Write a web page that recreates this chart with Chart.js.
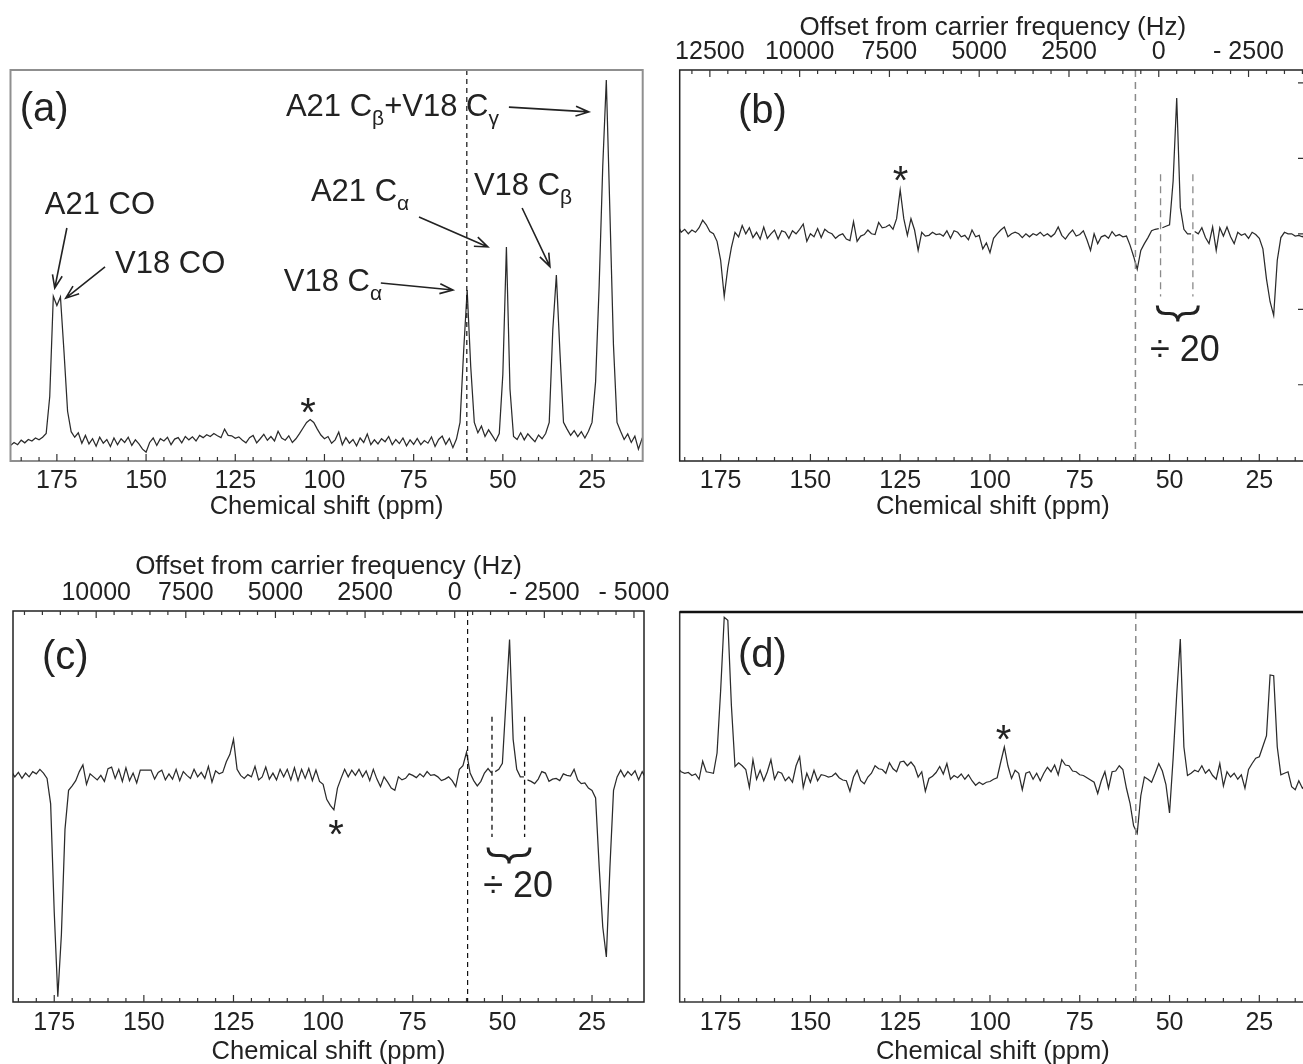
<!DOCTYPE html>
<html>
<head>
<meta charset="utf-8">
<script src="https://cdn.jsdelivr.net/npm/chart.js@4.4.1/dist/chart.umd.min.js"></script>
<style>
  html, body { margin: 0; padding: 0; background: #fff; }
  body { width: 1303px; height: 1064px; overflow: hidden; position: relative; }
  canvas { position: absolute; }
</style>
</head>
<body>
<canvas id="panelA" width="660" height="540" style="left:0;top:0"></canvas>
<canvas id="panelB" width="660" height="540" style="left:660px;top:0"></canvas>
<canvas id="panelC" width="700" height="540" style="left:0;top:540px"></canvas>
<canvas id="panelD" width="660" height="540" style="left:660px;top:540px"></canvas>
<script>
const FONT = '"Liberation Sans", Arial, Helvetica, sans-serif';
const INK = '#222';

// 1 ppm sampling grid, 189 -> 10 ppm
const PPM_GRID = Array.from({ length: 180 }, (_, i) => 189 - i);

const PPM_TICKS = [175, 150, 125, 100, 75, 50, 25];
const HZ_TICKS_B = [12500, 10000, 7500, 5000, 2500, 0, -2500];
const HZ_TICKS_C = [10000, 7500, 5000, 2500, 0, -2500, -5000];

// (a) CP spectrum, arbitrary units
const SPEC_A = [
  -1.8, -1.2, -0.4, -1.0, 0.2, -0.5, 0.4, 0.0, 0.8, 0.3,
  1.0, 2.0, 12, 39, 36.5, 38.8, 24, 8, 2.5, 1.0,
  2.2, -0.6, 1.5, -0.8, 0.6, -1.4, 1.0, -0.6, 0.4, -1.5,
  0.8, -1.0, 0.6, -0.4, 1.0, -1.2, 0.3, -0.8, -2.2, -3.0,
  -0.4, 0.8, -1.2, 0.6, 0.0, 1.0, -1.0, 0.5, 0.9, -0.5,
  1.2, 0.3, 1.1, 0.0, 1.5, 0.9, 1.7, 1.2, 2.0, 1.4,
  0.9, 3.2, 1.5, 1.4, 0.7, 1.1, 0.2, -0.5, 0.9, 1.5,
  -0.5, 0.6, 1.8, 0.2, 1.2, 0.0, 2.6, 0.8, 0.2, 1.4,
  -0.4, 0.6, 2.0, 3.5, 5.0, 5.8, 5.0, 3.2, 1.6, 0.6,
  1.2, -0.6, 0.3, 2.4, -1.0, 0.9, -0.6, 0.4, -1.3, 0.8,
  -0.4, 1.9, -1.0, 0.3, -0.8, 0.6, -0.2, 1.2, -1.0, 0.4,
  -0.7, 0.8, -1.3, 0.3, -0.9, 0.7, -1.0, 0.1, -0.6, 1.1,
  -1.5, 0.4, 1.3, -0.9, 0.7, -1.8, 0.5, 5, 24, 40.7,
  20, 5, 2.2, 4.0, 1.2, 3.0, 1.5, 0.0, 2.0, 18,
  52.3, 14, 1.2, 0.4, 2.2, 0.3, 1.9, 0.8, -0.2, 1.6,
  0.6, 2.0, 5, 30, 44.7, 24, 5, 3.2, 1.5, 2.8,
  1.2, 2.5, 0.8, 2.6, 5, 16, 42, 74, 97.3, 62,
  26, 5, 2.6, 0.4, 1.9, -0.4, 1.3, -2.2, 0.6, -0.6
];

// (b) difference spectrum, carrier near 53 ppm
const SPEC_B = [
  0.10, 0.05, 0.12, 0.02, 0.06, 0.00, 0.05, 0.02, 0.08, 0.18,
  0.12, 0.03, 0.00, -0.10, -0.35, -0.83, -0.45, -0.18, 0.02, -0.04,
  0.11, 0.00, 0.08, -0.05, 0.02, -0.07, 0.09, -0.06, 0.00, 0.05,
  -0.07, 0.04, 0.02, -0.06, 0.04, 0.00, 0.06, 0.13, -0.10, 0.00,
  -0.04, 0.07, -0.05, 0.06, 0.02, 0.00, -0.06, -0.02, 0.00, -0.07,
  -0.09, 0.16, -0.10, -0.03, -0.01, 0.05, 0.00, -0.01, 0.15, 0.08,
  0.09, 0.12, 0.06, 0.20, 0.58, 0.20, -0.02, 0.20, 0.05, -0.22,
  0.02, -0.03, -0.02, 0.02, -0.01, 0.00, -0.03, 0.04, -0.06, 0.04,
  0.02, -0.04, -0.02, -0.08, 0.05, -0.04, -0.02, -0.20, -0.12, -0.25,
  -0.06, 0.00, 0.05, 0.09, -0.04, 0.00, 0.02, 0.00, -0.05, 0.00,
  -0.04, 0.00, -0.02, 0.02, -0.03, 0.00, -0.04, 0.00, 0.09, -0.02,
  -0.07, 0.00, 0.05, -0.03, -0.01, 0.04, -0.08, -0.22, 0.00, -0.13,
  -0.04, -0.02, -0.06, 0.03, -0.03, -0.01, -0.04, -0.03, -0.15, -0.30,
  -0.47, -0.22, -0.13, -0.05, 0.04, 0.06, 0.07, 0.08, 0.10, 0.12,
  0.70, 1.80, 0.35, 0.06, 0.00, 0.00, 0.03, 0.00, 0.08, -0.05,
  -0.13, 0.09, -0.22, 0.08, -0.03, 0.09, -0.04, -0.13, 0.02, -0.02,
  0.00, -0.06, 0.02, -0.01, -0.06, -0.20, -0.60, -0.90, -1.08, -0.35,
  -0.05, 0.02, 0.00, 0.00, -0.03, -0.02, -0.04, 0.00, 0.02, -0.01
];

// (c) difference spectrum, carrier near 63 ppm
const SPEC_C = [
  0.05, 0.02, 0.08, 0.00, 0.06, -0.02, 0.05, 0.00, 0.07, 0.04,
  0.10, 0.05, -0.02, -0.36, -1.80, -2.93, -2.10, -0.70, -0.18, -0.12,
  -0.05, 0.07, 0.16, -0.10, 0.04, 0.00, -0.04, 0.02, -0.06, 0.11,
  0.13, -0.02, 0.10, -0.06, 0.12, -0.05, 0.05, -0.08, 0.09, 0.09,
  0.09, 0.09, -0.03, 0.06, 0.09, -0.04, 0.04, -0.03, 0.10, -0.05,
  0.07, 0.02, -0.02, 0.10, 0.00, 0.06, -0.02, 0.14, -0.07, 0.08,
  0.04, 0.06, 0.20, 0.30, 0.50, 0.10, 0.02, -0.02, 0.03, 0.00,
  0.14, -0.04, 0.00, 0.13, -0.03, 0.05, -0.04, 0.10, 0.00, 0.10,
  -0.04, 0.12, -0.05, 0.10, -0.02, 0.11, -0.05, 0.09, -0.06, -0.10,
  -0.30, -0.38, -0.44, -0.15, -0.02, 0.10, 0.00, 0.09, 0.02, 0.10,
  0.00, 0.08, -0.05, 0.10, -0.03, -0.13, 0.00, -0.07, -0.15, -0.18,
  0.00, -0.04, -0.02, 0.04, 0.02, -0.01, 0.04, 0.00, 0.07, 0.02,
  0.03, 0.00, -0.05, -0.03, 0.00, -0.05, -0.13, 0.10, 0.15, 0.33,
  0.05, -0.05, -0.12, -0.06, 0.05, 0.11, 0.05, 0.07, 0.10, 0.18,
  1.00, 1.83, 0.50, 0.10, 0.00, 0.00, -0.04, -0.06, -0.09, -0.03,
  0.07, 0.05, -0.06, -0.03, -0.02, -0.05, 0.04, 0.02, 0.01, 0.10,
  -0.04, -0.09, -0.08, -0.15, -0.18, -0.28, -1.20, -2.00, -2.40, -1.20,
  -0.18, 0.00, 0.09, 0.00, 0.07, 0.02, 0.08, -0.04, 0.07, -0.02
];

// (d) difference spectrum
const SPEC_D = [
  0.05, 0.08, 0.07, 0.02, 0.00, 0.01, -0.03, -0.01, -0.08, 0.16,
  0.02, 0.01, 0.00, 0.27, 1.10, 2.08, 2.04, 0.90, 0.09, 0.14,
  0.10, 0.05, -0.19, 0.18, -0.08, 0.04, -0.10, 0.02, 0.18, -0.08,
  0.02, 0.00, -0.10, -0.05, -0.12, 0.10, 0.22, -0.19, 0.00, -0.12,
  0.04, -0.10, -0.02, -0.03, -0.05, -0.04, 0.00, -0.06, -0.09, -0.10,
  -0.24, -0.05, 0.04, -0.10, -0.14, -0.05, 0.00, 0.10, 0.06, 0.05,
  0.00, 0.14, 0.06, 0.02, 0.15, 0.16, 0.10, 0.15, 0.09, -0.05,
  0.02, -0.24, -0.07, -0.04, 0.01, 0.09, -0.01, 0.13, -0.08, -0.03,
  -0.06, -0.01, -0.08, -0.02, -0.10, -0.16, -0.12, -0.15, -0.12, -0.11,
  -0.08, -0.06, 0.15, 0.35, 0.10, -0.07, 0.04, 0.00, -0.22, 0.00,
  0.02, -0.08, 0.00, -0.10, 0.00, 0.08, 0.02, 0.11, -0.02, 0.18,
  0.11, 0.10, 0.03, 0.02, -0.02, -0.03, -0.06, -0.09, -0.12, -0.27,
  -0.10, 0.02, -0.20, 0.02, 0.03, 0.10, 0.05, -0.20, -0.40, -0.70,
  -0.80, -0.30, -0.05, -0.08, -0.12, 0.00, 0.13, 0.03, -0.15, -0.53,
  0.20, 1.05, 1.79, 0.35, -0.03, 0.00, 0.04, 0.02, 0.10, 0.00,
  0.05, -0.03, -0.08, 0.13, -0.17, 0.02, -0.05, 0.00, -0.08, -0.02,
  -0.20, 0.05, 0.13, 0.20, 0.22, 0.36, 0.50, 1.31, 1.30, 0.35,
  -0.02, 0.00, 0.02, -0.18, -0.22, -0.10, -0.20, -0.15, 0.00, 0.05
];

// annotations, in data coordinates (ppm, intensity)
const DECOR = {
  panelA: {
    frame: '#8f8f8f', frameWidth: 2,
    ref: { ppm: 60.1, color: '#111', dash: [5, 4], width: 1.2 },
    letter: { text: '(a)', ppm: 185.4, v: 89.2 },
    stars: [{ ppm: 104.6, v: 10.2 }],
    labels: [
      { parts: [['A21 CO']], ppm: 178.4, v: 63.4 },
      { parts: [['V18 CO']], ppm: 158.7, v: 47.7 },
      { parts: [['A21 C'], ['β', 1], ['+V18 C'], ['γ', 1]], ppm: 110.8, v: 89.8 },
      { parts: [['A21 C'], ['α', 1]], ppm: 103.8, v: 66.9 },
      { parts: [['V18 C'], ['β', 1]], ppm: 58.1, v: 68.5 },
      { parts: [['V18 C'], ['α', 1]], ppm: 111.4, v: 42.6 }
    ],
    arrows: [
      [172.2, 57.4, 175.6, 41.2],
      [161.5, 46.9, 172.5, 38.5],
      [48.3, 90.0, 25.9, 88.7],
      [73.5, 60.4, 54.2, 52.3],
      [44.6, 62.8, 36.8, 47.0],
      [84.2, 42.6, 64.0, 40.7]
    ]
  },
  panelB: {
    frame: '#222', frameWidth: 1.5,
    ref: { ppm: 59.5, color: '#8a8a8a', dash: [7, 5], width: 1.5 },
    letter: { text: '(b)', ppm: 170.2, v: 1.62 },
    stars: [{ ppm: 124.9, v: 0.83 }],
    bracket: { from: 52.5, to: 43.5, top: 0.79, bottom: -0.83, color: '#8a8a8a', dash: [7, 5] },
    brace: { from: 53.4, to: 42.0, v: -0.95 },
    note: { text: '÷ 20', ppm: 45.7, v: -1.55 },
    hzTicks: HZ_TICKS_B,
    rightTicks: [-2, -1, 0, 1, 2]
  },
  panelC: {
    frame: '#222', frameWidth: 1.5,
    ref: { ppm: 59.7, color: '#111', dash: [5, 4], width: 1.2 },
    letter: { text: '(c)', ppm: 178.4, v: 1.58 },
    stars: [{ ppm: 96.4, v: -0.64 }],
    bracket: { from: 52.9, to: 43.8, top: 0.8, bottom: -0.8, color: '#111', dash: [5, 4] },
    brace: { from: 54.0, to: 42.3, v: -0.94 },
    note: { text: '÷ 20', ppm: 45.6, v: -1.47 },
    hzTicks: HZ_TICKS_C
  },
  panelD: {
    frame: '#333', frameWidth: 1.5, topWidth: 2.5,
    ref: { ppm: 59.4, color: '#8a8a8a', dash: [7, 5], width: 1.5 },
    letter: { text: '(d)', ppm: 170.2, v: 1.56 },
    stars: [{ ppm: 96.2, v: 0.58 }]
  }
};

function drawRich(ctx, parts, x, y, size) {
  const subSize = Math.round(size * 0.68);
  let cx = x;
  ctx.textAlign = 'left';
  ctx.textBaseline = 'middle';
  parts.forEach(([t, sub]) => {
    ctx.font = `${sub ? subSize : size}px ${FONT}`;
    ctx.fillText(t, cx, sub ? y + size * 0.36 : y);
    cx += ctx.measureText(t).width;
  });
}

function drawArrow(ctx, x1, y1, x2, y2) {
  const a = Math.atan2(y2 - y1, x2 - x1);
  const L = 14, s = 0.36;
  ctx.beginPath();
  ctx.moveTo(x1, y1);
  ctx.lineTo(x2, y2);
  ctx.moveTo(x2 - L * Math.cos(a - s), y2 - L * Math.sin(a - s));
  ctx.lineTo(x2, y2);
  ctx.lineTo(x2 - L * Math.cos(a + s), y2 - L * Math.sin(a + s));
  ctx.stroke();
}

// horizontal curly brace, tip pointing down
function drawBrace(ctx, x1, x2, y, h) {
  const xm = (x1 + x2) / 2, r = h / 2;
  ctx.beginPath();
  ctx.moveTo(x1, y);
  ctx.quadraticCurveTo(x1, y + r, x1 + r, y + r);
  ctx.lineTo(xm - r, y + r);
  ctx.quadraticCurveTo(xm, y + r, xm, y + h);
  ctx.quadraticCurveTo(xm, y + r, xm + r, y + r);
  ctx.lineTo(x2 - r, y + r);
  ctx.quadraticCurveTo(x2, y + r, x2, y);
  ctx.stroke();
}

const framePlugin = {
  id: 'frame',
  afterDraw(chart) {
    const d = DECOR[chart.canvas.id];
    const { ctx, chartArea: { left, right, top, bottom } } = chart;
    const sx = chart.scales.x, sy = chart.scales.y;
    const px = (p) => sx.getPixelForValue(p);
    const py = (v) => sy.getPixelForValue(v);
    ctx.save();

    // reference line
    ctx.strokeStyle = d.ref.color;
    ctx.lineWidth = d.ref.width;
    ctx.setLineDash(d.ref.dash);
    ctx.beginPath();
    ctx.moveTo(px(d.ref.ppm), top);
    ctx.lineTo(px(d.ref.ppm), bottom);
    ctx.stroke();

    if (d.bracket) {
      const b = d.bracket;
      ctx.strokeStyle = b.color;
      ctx.setLineDash(b.dash);
      ctx.lineWidth = 1.3;
      [b.from, b.to].forEach((p) => {
        ctx.beginPath();
        ctx.moveTo(px(p), py(b.top));
        ctx.lineTo(px(p), py(b.bottom));
        ctx.stroke();
      });
    }
    ctx.setLineDash([]);

    // frame
    ctx.strokeStyle = d.frame;
    ctx.lineWidth = d.frameWidth;
    ctx.strokeRect(left, top, right - left, bottom - top);
    if (d.topWidth) {
      ctx.strokeStyle = '#111';
      ctx.lineWidth = d.topWidth;
      ctx.beginPath();
      ctx.moveTo(left, top);
      ctx.lineTo(right, top);
      ctx.stroke();
    }

    // inward ticks on the ppm axis
    ctx.strokeStyle = '#333';
    ctx.lineWidth = 1.2;
    ctx.beginPath();
    for (let p = 15; p <= 185; p += 5) {
      const x = px(p);
      if (x < left || x > right) continue;
      const len = p % 25 === 0 ? 7 : 4;
      ctx.moveTo(x, bottom);
      ctx.lineTo(x, bottom - len);
    }
    ctx.stroke();

    // inward ticks on the Hz axis
    if (d.hzTicks) {
      const st = chart.scales.xTop;
      ctx.beginPath();
      for (let h = -6000; h <= 14000; h += 500) {
        const x = st.getPixelForValue(h);
        if (x < left || x > right) continue;
        const len = h % 2500 === 0 ? 7 : 4;
        ctx.moveTo(x, top);
        ctx.lineTo(x, top + len);
      }
      ctx.stroke();
    }

    if (d.rightTicks) {
      ctx.beginPath();
      d.rightTicks.forEach((v) => {
        ctx.moveTo(right, py(v));
        ctx.lineTo(right - 8, py(v));
      });
      ctx.stroke();
    }

    // text
    ctx.fillStyle = INK;
    ctx.textBaseline = 'middle';
    ctx.textAlign = 'left';
    ctx.font = `40px ${FONT}`;
    ctx.fillText(d.letter.text, px(d.letter.ppm), py(d.letter.v));

    ctx.textAlign = 'center';
    ctx.textBaseline = 'alphabetic';
    ctx.font = `40px ${FONT}`;
    (d.stars || []).forEach((s) => ctx.fillText('*', px(s.ppm), py(s.v) + 40 * 0.58));

    (d.labels || []).forEach((l) => drawRich(ctx, l.parts, px(l.ppm), py(l.v), 31));

    ctx.strokeStyle = INK;
    ctx.lineWidth = 1.6;
    (d.arrows || []).forEach((a) => drawArrow(ctx, px(a[0]), py(a[1]), px(a[2]), py(a[3])));

    if (d.brace) {
      ctx.lineWidth = 3;
      drawBrace(ctx, px(d.brace.from), px(d.brace.to), py(d.brace.v), 16);
    }
    if (d.note) {
      ctx.textAlign = 'center';
      ctx.textBaseline = 'middle';
      ctx.font = `36px ${FONT}`;
      ctx.fillText(d.note.text, px(d.note.ppm), py(d.note.v));
    }
    ctx.restore();
  }
};

const hzLabel = (v) => (v < 0 ? '- ' + Math.abs(v) : String(v));

function makePanel(id, cfg) {
  const tickFont = { family: FONT, size: 25 };
  const titleFont = { family: FONT, size: 25.5 };
  const gaps = cfg.gaps || [];
  const scales = {
    x: {
      type: 'linear',
      reverse: true,
      min: cfg.xMin,
      max: cfg.xMax,
      grid: { display: false, drawTicks: false },
      border: { display: false },
      afterBuildTicks: (s) => { s.ticks = PPM_TICKS.map((v) => ({ value: v })); },
      afterFit: (s) => { s.height = cfg.bottomH; },
      ticks: { font: tickFont, color: INK, padding: cfg.tickPad, maxRotation: 0, autoSkip: false, callback: (v) => String(v) },
      title: { display: true, text: 'Chemical shift (ppm)', font: titleFont, color: INK, padding: { top: 0, bottom: 0 } }
    },
    y: { display: false, min: cfg.yMin, max: cfg.yMax }
  };
  if (cfg.hzTicks) {
    scales.xTop = {
      type: 'linear',
      position: 'top',
      reverse: true,
      min: (cfg.xMin - cfg.carrier) * 100,
      max: (cfg.xMax - cfg.carrier) * 100,
      grid: { display: false, drawTicks: false },
      border: { display: false },
      afterBuildTicks: (s) => { s.ticks = cfg.hzTicks.map((v) => ({ value: v })); },
      afterFit: (s) => { s.height = cfg.topH; },
      ticks: { font: tickFont, color: INK, padding: 3, maxRotation: 0, autoSkip: false, callback: hzLabel },
      title: { display: true, text: 'Offset from carrier frequency (Hz)', font: { family: FONT, size: 26 }, color: INK, padding: { top: cfg.topTitlePad, bottom: 0 } }
    };
  }
  return new Chart(document.getElementById(id), {
    type: 'line',
    data: {
      datasets: [{
        data: PPM_GRID.map((p, i) => ({ x: p, y: cfg.values[i] })),
        borderColor: '#2b2b2b',
        borderWidth: 1.25,
        pointRadius: 0,
        tension: 0,
        fill: false,
        // the scaled window is drawn as its own piece
        segment: {
          borderColor: (c) => {
            const a = PPM_GRID[c.p0DataIndex], b = PPM_GRID[c.p1DataIndex];
            return gaps.some((g) => (a - g) * (b - g) < 0) ? 'rgba(0,0,0,0)' : undefined;
          }
        }
      }]
    },
    options: {
      responsive: false,
      animation: false,
      events: [],
      layout: { padding: cfg.padding },
      plugins: { legend: { display: false }, tooltip: { enabled: false } },
      scales
    },
    plugins: [framePlugin]
  });
}

makePanel('panelA', {
  values: SPEC_A, xMin: 10.8, xMax: 188.0, yMin: -5.4, yMax: 100,
  padding: { left: 10.5, right: 17.3, top: 70, bottom: 17.7 }, bottomH: 61.3, tickPad: 5.5
});
makePanel('panelB', {
  values: SPEC_B, xMin: 12.0, xMax: 186.4, yMin: -3.01, yMax: 2.17,
  padding: { left: 19.7, right: 14, top: 0, bottom: 17.7 }, bottomH: 61.3, tickPad: 5.5,
  hzTicks: HZ_TICKS_B, carrier: 53, topH: 70, topTitlePad: 12.4, gaps: [52.5, 43.5]
});
makePanel('panelC', {
  values: SPEC_C, xMin: 10.5, xMax: 186.5, yMin: -3.0, yMax: 2.21,
  padding: { left: 13, right: 56, top: 0, bottom: 12.7 }, bottomH: 65.3, tickPad: 6,
  hzTicks: HZ_TICKS_C, carrier: 63.3, topH: 71, topTitlePad: 11.1, gaps: [52.9, 43.8]
});
makePanel('panelD', {
  values: SPEC_D, xMin: 12.0, xMax: 186.4, yMin: -3.05, yMax: 2.15,
  padding: { left: 19.7, right: 14, top: 72, bottom: 12.7 }, bottomH: 65.3, tickPad: 6
});
</script>
</body>
</html>
